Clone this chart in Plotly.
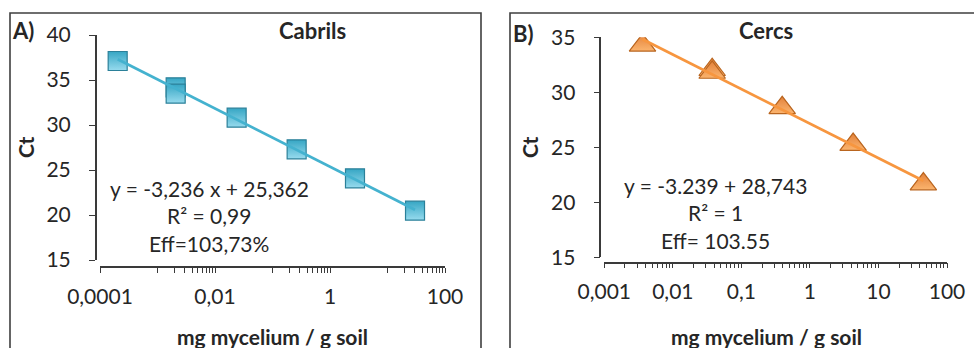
import numpy as np
import plotly.graph_objects as go

# ---- data -------------------------------------------------------------
# Cabrils standard curve (mg mycelium / g soil vs Ct)
cabrils_conc = [0.000203, 0.00207, 0.00207, 0.0238, 0.263, 2.72, 30.1]
cabrils_ct = [37.11, 34.19, 33.48, 30.81, 27.30, 24.07, 20.48]
cabrils_slope = -3.236
cabrils_intercept = 25.362

# Cercs standard curve
cercs_conc = [0.00361, 0.0375, 0.0375, 0.394, 4.27, 45.2]
cercs_ct = [34.27, 32.05, 31.80, 28.59, 25.25, 21.66]

cabrils_ticks = [0.0001, 0.01, 1, 100]
cabrils_ticktext = ["0,0001", "0,01", "1", "100"]
cercs_ticks = [0.001, 0.01, 0.1, 1, 10, 100]
cercs_ticktext = ["0,001", "0,01", "0,1", "1", "10", "100"]

cabrils_labels = ["y = -3,236 x + 25,362", "R\u00b2 = 0,99", "Eff=103,73%"]
cercs_labels = ["y = -3.239 + 28,743", "R\u00b2 = 1", "Eff= 103.55"]

# ---- page geometry ----------------------------------------------------
W, H = 974, 348
FONT = "Lato"
TXT = "#262626"
AXC = "#3a3a3a"


def fx(px):
    return px / W


def fy(py):
    return 1 - py / H


def minor_ticks(decades, ks):
    return [k * 10.0 ** d for d in decades for k in ks]


# ---- trend lines ------------------------------------------------------
a_x = [min(cabrils_conc), max(cabrils_conc)]
a_y = [cabrils_slope * np.log10(v) + cabrils_intercept for v in a_x]

b_fit = np.polyfit(np.log10(cercs_conc), cercs_ct, 1)
b_x = [min(cercs_conc), max(cercs_conc)]
b_y = [b_fit[0] * np.log10(v) + b_fit[1] for v in b_x]

fig = go.Figure()

fig.add_trace(go.Scatter(
    x=cabrils_conc, y=cabrils_ct, mode="markers", xaxis="x", yaxis="y",
    marker=dict(symbol="square", size=19, color="#36a6c4",
                gradient=dict(type="vertical", color="#97dbee"),
                line=dict(color="#2b8099", width=1.2)),
    showlegend=False, hoverinfo="x+y"))
fig.add_trace(go.Scatter(
    x=a_x, y=a_y, mode="lines", xaxis="x", yaxis="y",
    line=dict(color="#44b2cf", width=2.8), showlegend=False))

fig.add_trace(go.Scatter(
    x=cercs_conc, y=cercs_ct, mode="markers", xaxis="x2", yaxis="y2",
    marker=dict(symbol="triangle-up", size=23, color="#e3813a",
                gradient=dict(type="vertical", color="#fbb46e"),
                line=dict(color="#b9651f", width=1.2)),
    showlegend=False, hoverinfo="x+y"))
fig.add_trace(go.Scatter(
    x=b_x, y=b_y, mode="lines", xaxis="x2", yaxis="y2",
    line=dict(color="#f7963f", width=2.8), showlegend=False))

# ---- axes -------------------------------------------------------------
tickfont = dict(family=FONT, size=21, color=TXT)

a_minor = minor_ticks([-3, -1, 1], range(1, 10))
a_vals = cabrils_ticks + a_minor
a_text = cabrils_ticktext + [""] * len(a_minor)

b_minor = minor_ticks([-3, -2, -1, 0, 1], range(2, 10))
b_vals = cercs_ticks + b_minor
b_text = cercs_ticktext + [""] * len(b_minor)

common_x = dict(type="log", showgrid=False, zeroline=False, showline=True,
                linecolor=AXC, linewidth=1.5, ticks="outside", ticklen=5,
                tickwidth=1.3, tickcolor=AXC, tickmode="array",
                tickfont=tickfont, ticklabelstandoff=6, anchor="free",
                automargin=False)
common_y = dict(showgrid=False, zeroline=False, showline=True,
                linecolor=AXC, linewidth=1.5, ticks="outside", ticklen=6,
                tickwidth=1.3, tickcolor=AXC, tickmode="array",
                tickfont=tickfont, ticklabelstandoff=14, anchor="free",
                automargin=False)

fig.update_layout(
    width=W, height=H,
    margin=dict(l=0, r=0, t=0, b=0, pad=0, autoexpand=False),
    paper_bgcolor="white", plot_bgcolor="rgba(0,0,0,0)",
    xaxis=dict(common_x, range=[-4, 2], domain=[fx(100), fx(445)],
               position=fy(267), tickvals=a_vals, ticktext=a_text),
    yaxis=dict(common_y, range=[15, 40], domain=[fy(260), fy(35)],
               position=fx(95.7), tickvals=list(range(15, 41, 5))),
    xaxis2=dict(common_x, range=[-3, 2], domain=[fx(604.3), fx(947)],
                position=fy(262.5), tickvals=b_vals, ticktext=b_text),
    yaxis2=dict(common_y, range=[15, 35], domain=[fy(257.3), fy(37.3)],
                position=fx(600.3), tickvals=list(range(15, 36, 5))),
)

# ---- panel frames -----------------------------------------------------
frame = dict(color="#3f3f3f", width=1.6)
fig.add_shape(type="rect", xref="paper", yref="paper",
              x0=fx(10), x1=fx(481), y0=-0.1, y1=fy(13), line=frame)
fig.add_shape(type="rect", xref="paper", yref="paper",
              x0=fx(510), x1=1.1, y0=-0.1, y1=fy(13), line=frame)

# ---- text -------------------------------------------------------------
def label(text, x, y, size=21, bold=False, angle=0):
    fig.add_annotation(
        text=f"<b>{text}</b>" if bold else text,
        xref="paper", yref="paper", x=fx(x), y=fy(y),
        xanchor="center", yanchor="middle", showarrow=False, textangle=angle,
        font=dict(family=FONT, size=size, color=TXT))


label("A)", 23, 31, size=22, bold=True)
label("B)", 523, 33, size=22, bold=True)
label("Cabrils", 312, 30, size=22, bold=True)
label("Cercs", 766, 30, size=22, bold=True)
label("Ct", 25, 147, size=21, bold=True, angle=-90)
label("Ct", 529, 147, size=21, bold=True, angle=-90)
label("mg mycelium / g soil", 272, 336, size=21, bold=True)
label("mg mycelium / g soil", 766, 336, size=21, bold=True)

for i, t in enumerate(cabrils_labels):
    label(t, 209, 188 + 27.5 * i)
for i, t in enumerate(cercs_labels):
    label(t, 715, 185 + 27.5 * i)

fig.write_html("out.html")
